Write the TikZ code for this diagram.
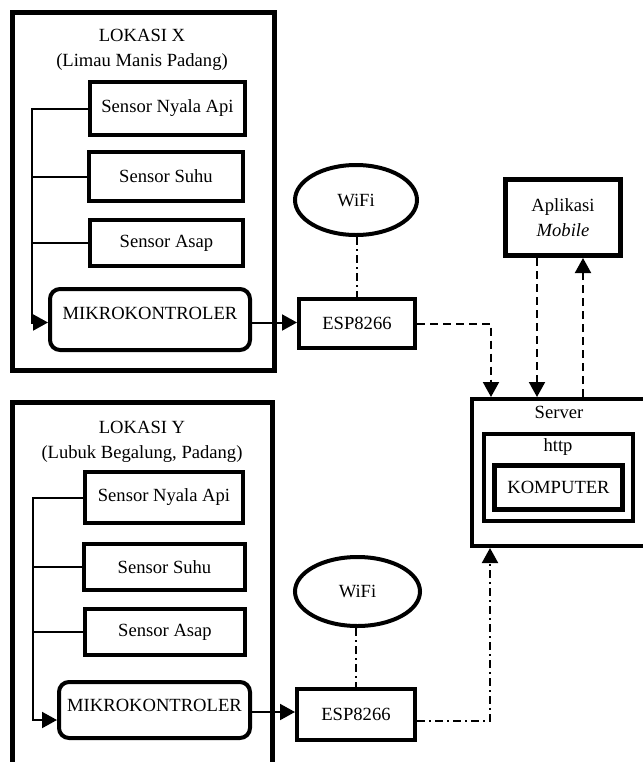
\documentclass[tikz,border=0pt]{standalone}
\usepackage{fontspec}
\setmainfont{Liberation Serif}
\usepackage{tikz}
\usetikzlibrary{calc,positioning,arrows.meta,shapes.geometric}
\tikzset{
	x=0.5pt, y=-0.5pt,
	every node/.style={font=\fontsize{9.3}{12.5}\selectfont},
	box/.style={draw, line width=2pt, inner sep=0pt},
	bigbox/.style={draw, line width=2.5pt, inner sep=0pt},
	mcu/.style={box, rounded corners=5pt, text depth=6pt},
	cloud/.style={draw, ellipse, line width=2pt, inner sep=0pt},
	tip/.style={-{Triangle[length=7.5pt,width=8pt]}},
	link/.style={line width=1pt, tip},
	wire/.style={line width=1pt},
	netlink/.style={line width=1pt, dash pattern=on 4pt off 2.5pt, tip},
	radio/.style={line width=1pt, dash pattern=on 4pt off 2pt on 1pt off 2pt},
}

\begin{document}
\begin{tikzpicture}
	\useasboundingbox (0,0) rectangle (643,762);

	% lokasi X
	\node[bigbox, minimum width=131pt, minimum height=179pt] (lokX) at (143.5,191.5) {};
	\node[align=center] (titleX) at (142,50) {LOKASI X\\(Limau Manis Padang)};
	\node[box, minimum width=77.5pt, minimum height=26.5pt] (nyalaX) at (167.5,108.5) {Sensor Nyala Api};
	\node[box, minimum width=77pt, minimum height=24.5pt] (suhuX) at (166,176.5) {Sensor Suhu};
	\node[box, minimum width=76.5pt, minimum height=23pt] (asapX) at (166.5,243) {Sensor Asap};
	\node[mcu, minimum width=100pt, minimum height=30.5pt] (mikroX) at (150,319.5) {MIKROKONTROLER};
	\node[box, minimum width=58pt, minimum height=24.5pt] (espX) at (357,323.5) {ESP8266};
	\node[cloud, minimum width=61pt, minimum height=35pt] (wifiX) at (356,200) {WiFi};
	\coordinate (busX) at (32,0);

	% lokasi Y
	\node[bigbox, minimum width=130pt, minimum height=198.5pt] (lokY) at (142.5,601) {};
	\node[align=center] (titleY) at (142,441.5) {LOKASI Y\\(Lubuk Begalung, Padang)};
	\node[box, minimum width=79pt, minimum height=25.5pt] (nyalaY) at (164,497.5) {Sensor Nyala Api};
	\node[box, minimum width=80.5pt, minimum height=23pt] (suhuY) at (164.5,567) {Sensor Suhu};
	\node[box, minimum width=80pt, minimum height=23pt] (asapY) at (165,632) {Sensor Asap};
	\node[mcu, minimum width=95.5pt, minimum height=28pt, text depth=5pt] (mikroY) at (154.5,710) {MIKROKONTROLER};
	\node[box, minimum width=59pt, minimum height=25.5pt] (espY) at (356,714.5) {ESP8266};
	\node[cloud, minimum width=62.5pt, minimum height=34.5pt] (wifiY) at (357.5,591.5) {WiFi};
	\coordinate (busY) at (33,0);

	% server dan aplikasi
	\node[bigbox, minimum width=57.5pt, minimum height=38pt, align=center] (apk) at (563,217.5) {Aplikasi\\\textit{Mobile}};
	\node[box, minimum width=110pt, minimum height=73.5pt] (server) at (582,472.5) {};
	\node (serverlbl) at (559,412) {Server};
	\node[box, minimum width=74.5pt, minimum height=43.5pt] (http) at (558.5,477.5) {};
	\node (httplbl) at (558,447) {http};
	\node[bigbox, minimum width=64pt, minimum height=22pt] (komputer) at (558.5,487.5) {KOMPUTER};

	% sensor ke mikrokontroler
	\draw[link] (nyalaX.west) -| ([yshift=-1.5pt]mikroX.west -| busX) -- ([yshift=-1.5pt]mikroX.west);
	\draw[wire] (suhuX.west) -- (suhuX.west -| busX);
	\draw[wire] (asapX.west) -- (asapX.west -| busX);
	\draw[link] (nyalaY.west) -| ([yshift=-5pt]mikroY.west -| busY) -- ([yshift=-5pt]mikroY.west);
	\draw[wire] (suhuY.west) -- (suhuY.west -| busY);
	\draw[wire] (asapY.west) -- (asapY.west -| busY);

	% mikrokontroler ke ESP8266
	\draw[link] ([yshift=-1.5pt]mikroX.east) -- ([yshift=-1.5pt]mikroX.east -| espX.west);
	\draw[link] ([yshift=-1pt]mikroY.east) -- ([yshift=-1pt]mikroY.east -| espY.west);
	\draw[radio] (wifiX.south -| espX.north) -- (espX.north);
	\draw[radio] (wifiY.south -| espY.north) -- (espY.north);

	% ke server
	\draw[netlink] (espX.east) -| ($(server.north west)+(21,0)$);
	\draw[radio, tip] ([yshift=-3pt]espY.east) -| ($(server.south west)+(20,0)$);
	\draw[netlink] ([xshift=-13pt]apk.south) -- ([xshift=-13pt]apk.south |- server.north);
	\draw[netlink] ([xshift=10pt]apk.south |- server.north) -- ([xshift=10pt]apk.south);
\end{tikzpicture}
\end{document}
